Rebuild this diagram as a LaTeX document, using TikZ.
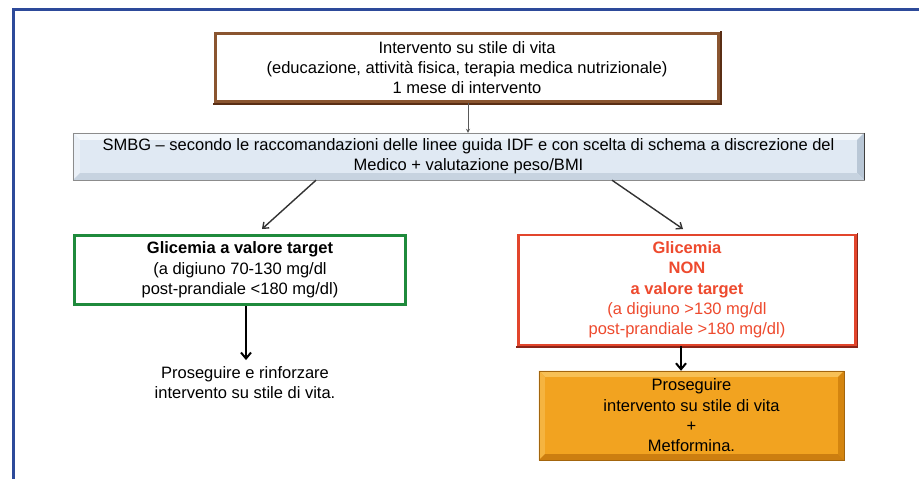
\documentclass[tikz,border=0pt]{standalone}
\usepackage{fontspec}
\setmainfont{Liberation Sans}
\usetikzlibrary{arrows.meta,calc}
\definecolor{framebl}{HTML}{2D4A9A}
\definecolor{brownb}{HTML}{8A5530}
\definecolor{brownd}{HTML}{5A2E14}
\definecolor{greenb}{HTML}{1F8A3C}
\definecolor{redb}{HTML}{E2452C}
\definecolor{redd}{HTML}{8A2418}
\definecolor{redt}{HTML}{EE4A2E}
\definecolor{smbgface}{HTML}{E0E9F3}
\definecolor{smbgtop}{HTML}{F4F8FC}
\definecolor{smbgleft}{HTML}{EAF0F7}
\definecolor{smbgright}{HTML}{B9C7D6}
\definecolor{smbgbot}{HTML}{C7D3E0}
\definecolor{orface}{HTML}{F2A320}
\definecolor{ortop}{HTML}{F7C055}
\definecolor{orleft}{HTML}{F5B440}
\definecolor{orright}{HTML}{D4850F}
\definecolor{orbot}{HTML}{CC7E10}
\newcommand\mybevel[6]{%
  \fill[#3] (#1.north west) -- (#1.north east) -- ($(#1.north east)+(-#2,#2)$) -- ($(#1.north west)+(#2,#2)$) -- cycle;
  \fill[#4] (#1.north west) -- (#1.south west) -- ($(#1.south west)+(#2,-#2)$) -- ($(#1.north west)+(#2,#2)$) -- cycle;
  \fill[#5] (#1.north east) -- (#1.south east) -- ($(#1.south east)+(-#2,-#2)$) -- ($(#1.north east)+(-#2,#2)$) -- cycle;
  \fill[#6] (#1.south west) -- (#1.south east) -- ($(#1.south east)+(-#2,-#2)$) -- ($(#1.south west)+(#2,-#2)$) -- cycle;
}
\tikzset{
  box/.style={rectangle, align=center, inner sep=0pt},
  thinarrow/.style={draw=black!65, line width=0.9pt, -{Stealth[length=4pt,width=4pt]}},
  diagarrow/.style={draw=black!80, line width=1.4pt, -{Straight Barb[length=5pt,width=8pt]}},
  vertarrow/.style={draw=black, line width=2pt, -{Straight Barb[length=6pt,width=10pt]}},
}
\begin{document}
\begin{tikzpicture}[x=1pt,y=-1pt, font=\fontsize{16.5}{20.3}\selectfont]
\useasboundingbox (0,0) rectangle (919,479);
\clip (0,0) rectangle (919,479);
\fill[white] (0,0) rectangle (919,479);
\draw[framebl, line width=3pt] (13.5,490) -- (13.5,9.5) -- (930,9.5);

% top box
\node[box, draw=brownb, line width=3pt, minimum width=503pt, minimum height=68pt] (top) at (467,67.5)
  {Intervento su stile di vita\\(educazione, attività fisica, terapia medica nutrizionale)\\1 mese di intervento};
\draw[brownd, line width=1.5pt] ([xshift=-1pt,yshift=-0.8pt]top.south west) -- ([xshift=0.8pt,yshift=-0.8pt]top.south east) -- ([xshift=0.8pt,yshift=1pt]top.north east);

% SMBG box
\node[box, minimum width=791pt, minimum height=47pt, fill=smbgface] (smbg) at (468.5,156.5) {};
\mybevel{smbg}{7}{smbgtop}{smbgleft}{smbgright}{smbgbot}
\draw[black!45, line width=0.6pt] (smbg.north west) rectangle (smbg.south east);
\draw[black!75, line width=1pt] (smbg.north east) -- (smbg.south east);
\node[box] (smbgtext) at (smbg.center)
  {SMBG – secondo le raccomandazioni delle linee guida IDF e con scelta di schema a discrezione del\\Medico + valutazione peso/BMI};

% green box
\node[box, draw=greenb, line width=3.5pt, minimum width=331pt, minimum height=69pt] (green) at (240,270)
  {\textbf{Glicemia a valore target}\\(a digiuno 70-130 mg/dl\\post-prandiale <180 mg/dl)};

% red box
\node[box, draw=redb, line width=2.5pt, minimum width=337pt, minimum height=110pt, text=redt] (red) at (687,290)
  {\textbf{Glicemia}\\\textbf{NON}\\\textbf{a valore target}\\(a digiuno >130 mg/dl\\post-prandiale >180 mg/dl)};
\draw[redd, line width=1.3pt] ([xshift=-1pt,yshift=-0.6pt]red.south west) -- ([xshift=0.6pt,yshift=-0.6pt]red.south east) -- ([xshift=0.6pt,yshift=1pt]red.north east);

% result text left
\node[box] (res1) at (245,382.5) {Proseguire e rinforzare\\intervento su stile di vita.};

% orange box
\node[box, minimum width=305pt, minimum height=89pt, fill=orface] (orange) at (691.5,415.5) {};
\mybevel{orange}{6}{ortop}{orleft}{orright}{orbot}
\draw[orbot!80!black, line width=0.6pt] (orange.north west) rectangle (orange.south east);
\node[box] (oratext) at (orange.center) {Proseguire\\intervento su stile di vita\\+\\Metformina.};

% connectors
\draw[thinarrow] (top.south -| 468,0) -- (smbg.north -| 468,0);
\coordinate (lt) at (262,229);
\coordinate (rt) at (683,229);
\draw[diagarrow] (smbg.south -| 316,0) -- (lt);
\draw[diagarrow] (smbg.south -| 612,0) -- (rt);
\draw[vertarrow] (green.south -| 246,0) -- ([yshift=6pt]res1.north -| 246,0);
\draw[vertarrow] (red.south -| 681,0) -- (orange.north -| 681,0);
\end{tikzpicture}
\end{document}
